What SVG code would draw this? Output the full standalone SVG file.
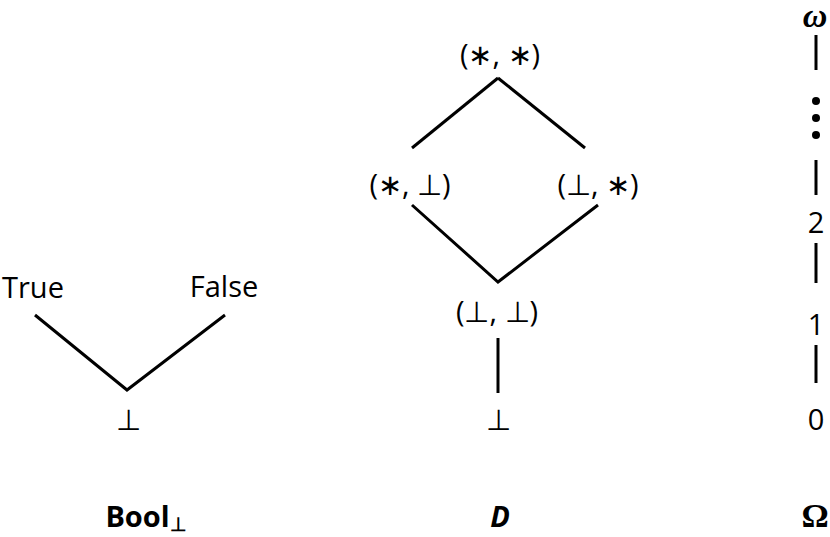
<svg xmlns="http://www.w3.org/2000/svg" width="830" height="537" viewBox="0 0 830 537">
<style>
text{font-family:"Open Sans","Liberation Sans",sans-serif;font-size:29px;fill:#000;text-anchor:middle}
.b{font-weight:bold}
.s{font-family:"Liberation Serif",serif;font-size:34px}
line,polyline{stroke:#000;stroke-width:3;fill:none}
</style>
<rect width="830" height="537" fill="#fff"/>
<g id="connectors">
<polyline points="35,315 127,390 225,315"/>
<line x1="412" y1="148" x2="498" y2="78"/>
<line x1="498" y1="78" x2="585" y2="148"/>
<polyline points="412,205 498,282 598,205"/>
<line x1="498" y1="338" x2="498" y2="393"/>
<line x1="816" y1="35" x2="816" y2="70"/>
<line x1="816" y1="160" x2="816" y2="195"/>
<line x1="816" y1="243" x2="816" y2="283"/>
<line x1="816" y1="345" x2="816" y2="383"/>
</g>
<g id="bool">
<g id="true"><text x="33" y="298">True</text></g>
<g id="false"><text x="224" y="297">False</text></g>
<g id="bool-bot"><text x="128" y="430">⊥</text></g>
<g id="bool-label"><text class="b" x="146" y="527">Bool<tspan font-size="19" dy="4">⊥</tspan></text></g>
</g>
<g id="d">
<g id="ss"><text x="500" y="65">(∗, ∗)</text></g>
<g id="sb"><text x="410" y="195">(∗, ⊥)</text></g>
<g id="bs"><text x="598" y="195">(⊥, ∗)</text></g>
<g id="bb"><text x="497" y="322">(⊥, ⊥)</text></g>
<g id="d-bot"><text x="498" y="430">⊥</text></g>
<g id="d-label"><text class="b" font-style="italic" x="500" y="527">D</text></g>
</g>
<g id="omega">
<g id="w"><text class="b s" font-style="italic" x="815" y="27">ω</text></g>
<g id="dots"><circle cx="816" cy="101" r="4"/><circle cx="816" cy="118" r="4"/><circle cx="816" cy="135" r="4"/></g>
<g id="n2"><text x="816" y="233">2</text></g>
<g id="n1"><text x="816" y="335">1</text></g>
<g id="n0"><text x="816" y="430">0</text></g>
<g id="omega-label"><text class="b s" x="815" y="527">Ω</text></g>
</g>
</svg>
